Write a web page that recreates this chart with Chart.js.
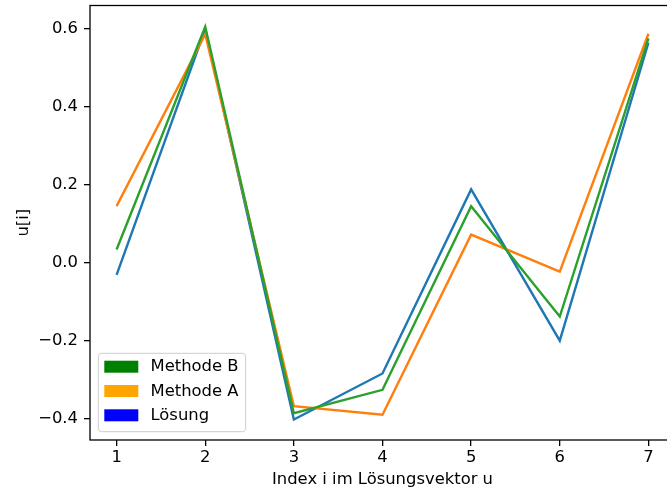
<!DOCTYPE html>
<html>
<head>
<meta charset="utf-8">
<script src="https://cdn.jsdelivr.net/npm/chart.js@4/dist/chart.umd.min.js"></script>
<style>
  html, body { margin: 0; padding: 0; background: #fff; overflow: hidden; width: 667px; height: 493px; }
  canvas { display: block; }
</style>
</head>
<body>
<canvas id="c" width="676" height="493"></canvas>
<script>
// Index positions in the solution vector
const indices = [1, 2, 3, 4, 5, 6, 7];

// Component values u[i]
const loesung  = [-0.032, 0.598, -0.403, -0.285, 0.187, -0.201, 0.563];
const methodeA = [ 0.144, 0.585, -0.369, -0.391, 0.071, -0.024, 0.586];
const methodeB = [ 0.033, 0.604, -0.387, -0.327, 0.144, -0.139, 0.574];

// Tick labels
const xTicks = [1, 2, 3, 4, 5, 6, 7];
const yTicks = [-0.4, -0.2, 0.0, 0.2, 0.4, 0.6];

// Legend entries (drawn as colour patches)
const legendLabels = ['Methode B', 'Methode A', 'Lösung'];
const legendColors = ['#008000', '#ffa500', '#0000ff'];

const FONT = 'DejaVu Sans';
const FS = 16.4;

const pts = ys => indices.map((x, i) => ({ x: x, y: ys[i] }));

const line = (label, ys, color, order) => ({
  label: label,
  data: pts(ys),
  borderColor: color,
  backgroundColor: color,
  borderWidth: 2.4,
  pointRadius: 0,
  pointHoverRadius: 0,
  tension: 0,
  fill: false,
  order: order
});

// Box around the axes, drawn above the lines
const frame = {
  id: 'frame',
  afterDatasetsDraw(chart) {
    const { ctx, chartArea: a } = chart;
    ctx.save();
    ctx.strokeStyle = '#000';
    ctx.lineWidth = 1.3;
    ctx.strokeRect(a.left, a.top, a.right - a.left, a.bottom - a.top);
    ctx.restore();
  }
};

// Legend box in the lower-left corner of the axes
const patchLegend = {
  id: 'patchLegend',
  afterDraw(chart) {
    const { ctx, chartArea: a } = chart;
    const pad = 8.3;
    const w = 147.4, h = 78.4;
    const x0 = a.left + pad;
    const y0 = a.bottom - pad - h;
    ctx.save();
    ctx.beginPath();
    ctx.roundRect(x0, y0, w, h, 3.5);
    ctx.fillStyle = 'rgba(255,255,255,0.8)';
    ctx.fill();
    ctx.strokeStyle = '#cccccc';
    ctx.lineWidth = 1;
    ctx.stroke();
    ctx.font = FS + 'px "' + FONT + '"';
    ctx.textBaseline = 'middle';
    ctx.textAlign = 'left';
    legendLabels.forEach((lbl, i) => {
      const cy = y0 + 13.4 + i * 24.3;
      ctx.fillStyle = legendColors[i];
      ctx.fillRect(x0 + 6, cy - 6, 34, 12);
      ctx.fillStyle = '#000';
      ctx.fillText(lbl, x0 + 52.2, cy + 0.5);
    });
    ctx.restore();
  }
};

const fmt = v => {
  const s = Number(v).toFixed(1);
  return s.replace('-', '\u2212');
};

new Chart(document.getElementById('c'), {
  type: 'line',
  data: {
    datasets: [
      line('Methode B', methodeB, '#2ca02c', 0),
      line('Methode A', methodeA, '#ff7f0e', 1),
      line('Lösung', loesung, '#1f77b4', 2)
    ]
  },
  options: {
    responsive: false,
    animation: false,
    devicePixelRatio: 1,
    layout: { padding: { top: 5.5, right: 1, left: 0, bottom: 0 } },
    plugins: {
      legend: { display: false },
      tooltip: { enabled: false }
    },
    scales: {
      x: {
        type: 'linear',
        min: 0.7,
        max: 7.3,
        afterBuildTicks: s => { s.ticks = xTicks.map(v => ({ value: v })); },
        afterFit: s => { s.height = 53; s.paddingLeft = 0; s.paddingRight = 0; },
        border: { display: false },
        grid: { display: true, drawOnChartArea: false, drawTicks: true, tickLength: 6, color: '#000', lineWidth: 1.3 },
        ticks: {
          font: { family: FONT, size: FS },
          color: '#000',
          padding: 2,
          maxRotation: 0,
          callback: v => String(v)
        },
        title: {
          display: true,
          text: 'Index i im Lösungsvektor u',
          font: { family: FONT, size: FS },
          color: '#000',
          padding: { top: 0, bottom: 3.5 }
        }
      },
      y: {
        type: 'linear',
        min: -0.4556,
        max: 0.6585,
        afterBuildTicks: s => { s.ticks = yTicks.map(v => ({ value: v })); },
        afterFit: s => { s.width = 90; s.paddingTop = 0; s.paddingBottom = 0; },
        border: { display: false },
        grid: { display: true, drawOnChartArea: false, drawTicks: true, tickLength: 6, color: '#000', lineWidth: 1.3 },
        ticks: {
          font: { family: FONT, size: FS },
          color: '#000',
          padding: 6,
          callback: v => fmt(v)
        },
        title: {
          display: true,
          text: 'u[i]',
          font: { family: FONT, size: FS },
          color: '#000',
          padding: { top: 14, bottom: 0 }
        }
      }
    }
  },
  plugins: [frame, patchLegend]
});
</script>
</body>
</html>
